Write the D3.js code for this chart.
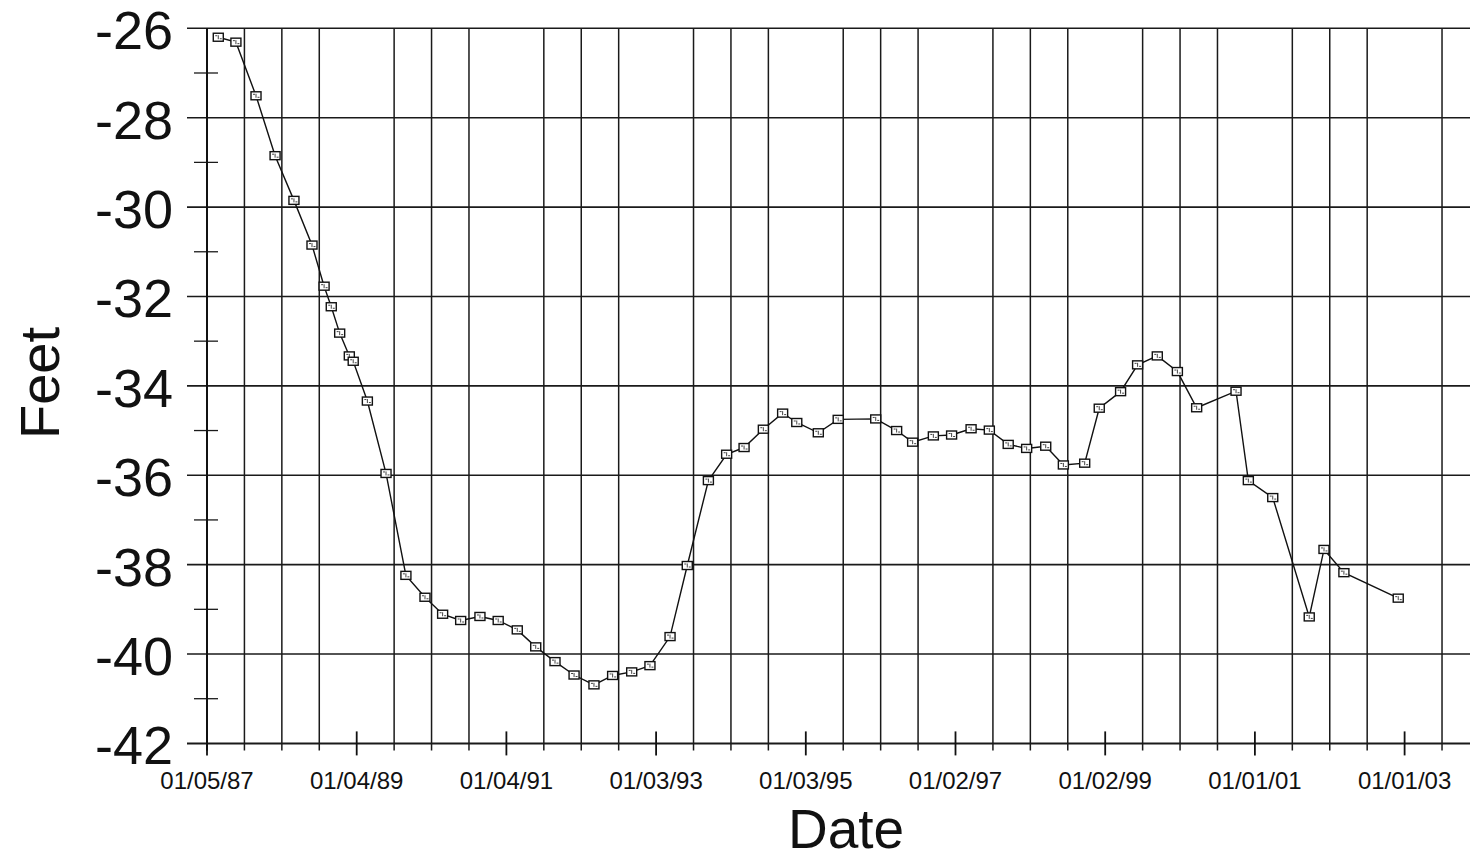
<!DOCTYPE html>
<html>
<head>
<meta charset="utf-8">
<script src="https://cdn.jsdelivr.net/npm/d3@7"></script>
<style>
  html, body { margin: 0; padding: 0; background: #fff; }
  svg { display: block; }
  text { font-family: "Liberation Sans", Arial, Helvetica, sans-serif; fill: #111; }
</style>
</head>
<body>
<svg id="chart" width="1470" height="860"></svg>
<script>
// ---- data ----
const dates = [
  "1987-03-01","1987-05-26","1987-09-01","1987-12-03","1988-03-04","1988-05-31","1988-07-29","1988-09-02",
  "1988-10-13","1988-11-29","1988-12-18","1989-02-25","1989-05-27","1989-09-01","1989-12-03","1990-02-27",
  "1990-05-26","1990-08-28","1990-11-25","1991-02-26","1991-05-27","1991-08-29","1991-11-30","1992-03-06",
  "1992-06-05","1992-09-06","1992-12-04","1993-03-12","1993-06-04","1993-09-15","1993-12-13","1994-03-08",
  "1994-06-10","1994-09-12","1994-11-20","1995-03-05","1995-06-10","1995-12-10","1996-03-21","1996-06-07",
  "1996-09-16","1996-12-14","1997-03-19","1997-06-16","1997-09-16","1997-12-15","1998-03-18","1998-06-12",
  "1998-09-24","1998-12-04","1999-03-18","1999-06-09","1999-09-13","1999-12-20","2000-03-23","2000-10-01",
  "2000-11-30","2001-03-29","2001-09-23","2001-12-04","2002-03-11","2002-12-01"
];
const feet = [
  -26.20,-26.31,-27.51,-28.85,-29.85,-30.85,-31.77,-32.23,
  -32.82,-33.33,-33.45,-34.34,-35.96,-38.24,-38.73,-39.11,
  -39.25,-39.16,-39.25,-39.46,-39.84,-40.17,-40.47,-40.69,
  -40.48,-40.40,-40.26,-39.61,-38.02,-36.12,-35.53,-35.38,
  -34.97,-34.61,-34.82,-35.05,-34.75,-34.74,-35.00,-35.26,
  -35.12,-35.10,-34.96,-34.99,-35.31,-35.40,-35.35,-35.77,
  -35.73,-34.50,-34.13,-33.53,-33.33,-33.68,-34.49,-34.12,
  -36.12,-36.50,-39.17,-37.66,-38.18,-38.75
];
const xTickLabels = ["01/05/87","01/04/89","01/04/91","01/03/93","01/03/95","01/02/97","01/02/99","01/01/01","01/01/03"];
const yTicks = [-26,-28,-30,-32,-34,-36,-38,-40,-42];
const yMinorTicks = [-27,-29,-31,-33,-35,-37,-39,-41];
const xAxisTitle = "Date";
const yAxisTitle = "Feet";

// ---- layout ----
const DAY = 86400000;
const parse = d3.utcParse("%Y-%m-%d");
const start = parse("1987-01-05");
const M = { left: 207, right: 1470, top: 28.3, bottom: 743.4 };
const pxPerDay = 149.7 / 730;
const endDate = new Date(start.getTime() + (M.right - M.left) / pxPerDay * DAY);

const x = d3.scaleUtc().domain([start, endDate]).range([M.left, M.right]);
const y = d3.scaleLinear().domain([-42, -26]).range([M.bottom, M.top]);

const svg = d3.select("#chart");
const data = dates.map((d, i) => ({ date: parse(d), v: feet[i] }));

// label tick dates every 730 days
const labelDates = xTickLabels.map((_, i) => new Date(start.getTime() + i * 730 * DAY));
// minor gridlines every 182.5 days, excluding labelled positions
const gridDates = d3.range(1, 40).filter(k => k % 4 !== 0)
  .map(k => new Date(start.getTime() + k * 182.5 * DAY))
  .filter(d => x(d) <= M.right);

const g = svg.append("g");

// vertical grid lines
g.selectAll("line.vgrid").data(gridDates).join("line")
  .attr("class", "vgrid")
  .attr("x1", d => x(d)).attr("x2", d => x(d))
  .attr("y1", M.top).attr("y2", M.bottom + 7)
  .attr("stroke", "#1a1a1a").attr("stroke-width", 1.5);

// horizontal grid lines (major)
g.selectAll("line.hgrid").data(yTicks).join("line")
  .attr("class", "hgrid")
  .attr("x1", M.left - 20).attr("x2", M.right)
  .attr("y1", d => y(d)).attr("y2", d => y(d))
  .attr("stroke", "#1a1a1a").attr("stroke-width", d => d === -42 ? 2 : 1.6);

// minor y ticks
g.selectAll("line.ymin").data(yMinorTicks).join("line")
  .attr("x1", M.left - 13).attr("x2", M.left + 11)
  .attr("y1", d => y(d)).attr("y2", d => y(d))
  .attr("stroke", "#1a1a1a").attr("stroke-width", 1.3);

// left axis line
g.append("line")
  .attr("x1", M.left).attr("x2", M.left).attr("y1", M.top).attr("y2", M.bottom + 7)
  .attr("stroke", "#111").attr("stroke-width", 2);

// labelled x ticks
g.selectAll("line.xtick").data(labelDates).join("line")
  .attr("x1", d => x(d)).attr("x2", d => x(d))
  .attr("y1", M.bottom - 12).attr("y2", M.bottom + 12)
  .attr("stroke", "#111").attr("stroke-width", 1.8);

// x tick labels
g.selectAll("text.xlab").data(labelDates).join("text")
  .attr("x", d => x(d)).attr("y", M.bottom + 46)
  .attr("text-anchor", "middle")
  .attr("font-size", 24)
  .text((d, i) => xTickLabels[i]);

// y tick labels
g.selectAll("text.ylab").data(yTicks).join("text")
  .attr("x", 173).attr("y", d => y(d) + 21)
  .attr("text-anchor", "end")
  .attr("font-size", 54)
  .text(d => String(d));

// axis titles
svg.append("text")
  .attr("x", 846).attr("y", 848)
  .attr("text-anchor", "middle").attr("font-size", 55)
  .text(xAxisTitle);
svg.append("text")
  .attr("transform", "translate(59,383) rotate(-90)")
  .attr("text-anchor", "middle").attr("font-size", 56)
  .text(yAxisTitle);

// data line
const line = d3.line().x(d => x(d.date)).y(d => y(d.v));
g.append("path").datum(data)
  .attr("d", line).attr("fill", "none")
  .attr("stroke", "#111").attr("stroke-width", 1.4);

// markers
const mk = g.selectAll("g.mk").data(data).join("g")
  .attr("transform", d => `translate(${x(d.date)},${y(d.v)})`);
mk.append("rect")
  .attr("x", -5).attr("y", -4).attr("width", 10).attr("height", 8)
  .attr("fill", "#fff").attr("stroke", "#111").attr("stroke-width", 1.4);
mk.append("path")
  .attr("d", "M-3,-1.5 h2 M0,-2 v4 M1.5,1.5 h2")
  .attr("stroke", "#444").attr("stroke-width", 1);
</script>
</body>
</html>
